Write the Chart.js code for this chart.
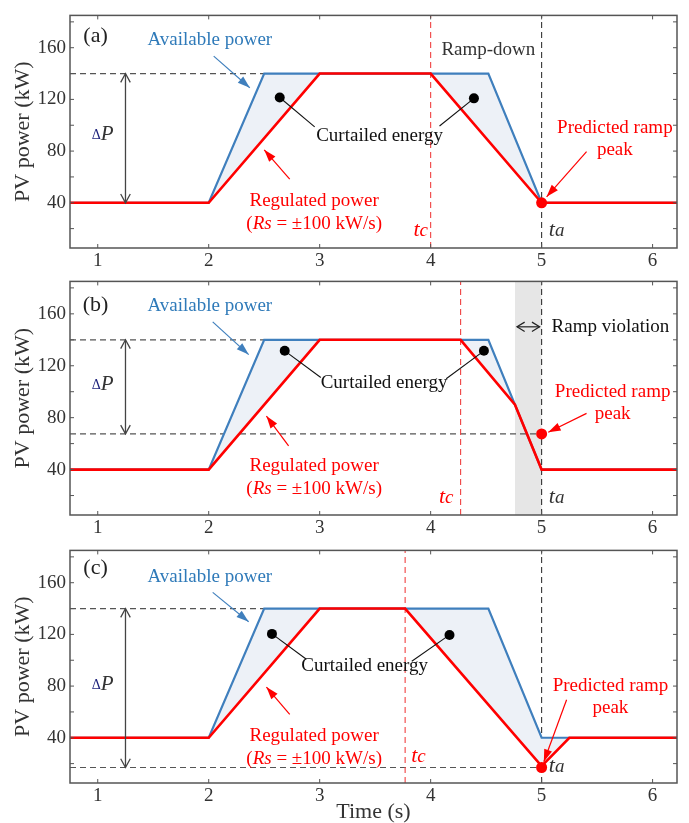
<!DOCTYPE html>
<html>
<head>
<meta charset="utf-8">
<script src="https://cdn.jsdelivr.net/npm/chart.js"></script>
<style>
  body { margin: 0; background: #fff; width: 689px; height: 823px; position: relative; overflow: hidden; }
  .panel { position: absolute; left: 0; }
</style>
</head>
<body>
<div class="panel" style="top:0px"><canvas id="chartA" width="689" height="270"></canvas></div>
<div class="panel" style="top:266px"><canvas id="chartB" width="689" height="271"></canvas></div>
<div class="panel" style="top:535px"><canvas id="chartC" width="689" height="288"></canvas></div>
<script>
// ---- data (time in s, power in kW) ----
// panel (a)
const tAvailA = [0.75, 2, 2.5, 4.52, 5, 6.22]
const availA  = [40, 40, 140, 140, 40, 40]
const tRegA   = [0.75, 2, 3, 4, 5, 6.22]
const regA    = [40, 40, 140, 140, 40, 40]
const peakA   = [5, 40]
const tcA = 4
const taA = 5

// panel (b)
const tAvailB = [0.75, 2, 2.5, 4.52, 5, 6.22]
const availB  = [40, 40, 140, 140, 40, 40]
const tRegB   = [0.75, 2, 3, 4.27, 4.76, 5, 6.22]
const regB    = [40, 40, 140, 140, 90, 40, 40]
const peakB   = [5, 67.5]
const tcB = 4.27
const taB = 5
const violationB = [4.76, 5]

// panel (c)
const tAvailC = [0.75, 2, 2.5, 4.52, 5, 6.22]
const availC  = [40, 40, 140, 140, 40, 40]
const tRegC   = [0.75, 2, 3, 3.77, 5, 5.25, 6.22]
const regC    = [40, 40, 140, 140, 18, 40, 40]
const peakC   = [5, 17]
const tcC = 3.77
const taC = 5

// shared
const topLevel = 140
const topLevelEnd = 2.5
const yTicks = [20, 40, 60, 80, 100, 120, 140, 160, 180]
const yTickLabels = [40, 80, 120, 160]

const SERIF = '"Liberation Serif", "Times New Roman", serif'
const RED = '#ff0000'
const BLUE = '#3f7fbd'
const BLUE_TXT = '#2f7ab9'
const f = s => s + 'px ' + SERIF
const fi = s => 'italic ' + s + 'px ' + SERIF

// label positions in data units (x s, y kW)
const panelNotes = {
  chartA: {
    tag: ['(a)', 0.98, 169],
    avail: [2.01, 166], availArrow: [2.045, 153.5, 2.37, 129],
    dots: [[2.64, 121.5, 2.955, 98.7], [4.39, 120.8, 4.08, 99.4]],
    curtailed: [3.54, 92],
    reg: [2.95, 41.5], regArrow: [2.73, 58.3, 2.5, 81],
    pred: [5.66, 98], predArrow: [5.405, 79.6, 5.045, 44.6],
    tc: [3.91, 18.7], ta: [5.135, 18.7],
    dP: [1.045, 92.6], dPx: 1.25, dPlow: 40,
    rampDown: [4.52, 158]
  },
  chartB: {
    tag: ['(b)', 0.98, 167],
    avail: [2.01, 166], availArrow: [2.036, 153.8, 2.36, 128.6],
    dots: [[2.685, 131.5, 3.01, 110.9], [4.48, 131.5, 4.14, 110]],
    curtailed: [3.58, 107],
    reg: [2.95, 43], regArrow: [2.72, 58.3, 2.52, 81.2],
    pred: [5.64, 100], predArrow: [5.405, 83.3, 5.06, 68.8],
    tc: [4.14, 19], ta: [5.135, 19],
    dP: [1.045, 105.7], dPx: 1.25, dPlow: 67.5,
    violation: [5.62, 150]
  },
  chartC: {
    tag: ['(c)', 0.98, 171],
    avail: [2.01, 164.5], availArrow: [2.036, 152.5, 2.36, 129.8],
    dots: [[2.57, 120.4, 2.88, 100.8], [4.17, 119.6, 3.83, 99.2]],
    curtailed: [3.405, 95.5],
    reg: [2.95, 41.5], regArrow: [2.73, 58.1, 2.52, 79.2],
    pred: [5.62, 80.4], predArrow: [5.225, 69.4, 5.02, 21.5],
    tc: [3.89, 25.7], ta: [5.135, 18.1],
    dP: [1.045, 81.5], dPx: 1.25, dPlow: 17
  }
}

function pts(xs, ys) {
  return xs.map((x, i) => ({ x: x, y: ys[i] }))
}

function line(ctx, x1, y1, x2, y2) {
  ctx.beginPath(); ctx.moveTo(x1, y1); ctx.lineTo(x2, y2); ctx.stroke()
}

function head(ctx, x1, y1, x2, y2, size, spread, filled) {
  const a = Math.atan2(y2 - y1, x2 - x1)
  ctx.beginPath()
  ctx.moveTo(x2 - size * Math.cos(a - spread), y2 - size * Math.sin(a - spread))
  ctx.lineTo(x2, y2)
  ctx.lineTo(x2 - size * Math.cos(a + spread), y2 - size * Math.sin(a + spread))
  if (filled) { ctx.closePath(); ctx.fill() } else ctx.stroke()
}

// text made of runs with different fonts, centred on cx
function runs(ctx, parts, cx, cy) {
  let w = 0
  parts.forEach(p => { ctx.font = p[1]; w += ctx.measureText(p[0]).width })
  let x = cx - w / 2
  ctx.textAlign = 'left'
  ctx.textBaseline = 'middle'
  parts.forEach(p => {
    ctx.font = p[1]; ctx.fillStyle = p[2]
    ctx.fillText(p[0], x, cy + (p[3] || 0))
    x += ctx.measureText(p[0]).width
  })
}

const notesPlugin = {
  id: 'notes',
  beforeDatasetsDraw(chart) {
    const n = panelNotes[chart.canvas.id]
    if (!n.violation) return
    const { ctx, chartArea: a, scales: { x } } = chart
    ctx.save()
    ctx.fillStyle = '#e6e6e6'
    const x1 = x.getPixelForValue(violationB[0]), x2 = x.getPixelForValue(violationB[1])
    ctx.fillRect(x1, a.top, x2 - x1, a.height)
    ctx.restore()
  },
  afterDatasetsDraw(chart) {
    const n = panelNotes[chart.canvas.id]
    const { ctx, chartArea: a, scales: { x, y } } = chart
    const X = v => x.getPixelForValue(v)
    const Y = v => y.getPixelForValue(v)
    ctx.save()

    // frame and inward ticks
    ctx.strokeStyle = '#555'
    ctx.lineWidth = 1.5
    ctx.strokeRect(a.left, a.top, a.width, a.height)
    ctx.lineWidth = 1
    x.ticks.forEach(t => {
      const px = X(t.value)
      line(ctx, px, a.bottom, px, a.bottom - 4)
      line(ctx, px, a.top, px, a.top + 4)
    })
    y.ticks.forEach(t => {
      const py = Y(t.value)
      line(ctx, a.left, py, a.left + 4, py)
      line(ctx, a.right, py, a.right - 4, py)
    })

    // panel tag
    runs(ctx, [[n.tag[0], f(22), '#222']], X(n.tag[1]), Y(n.tag[2]))

    // available power + arrow
    runs(ctx, [['Available power', f(19), BLUE_TXT]], X(n.avail[0]), Y(n.avail[1]))
    ctx.strokeStyle = BLUE; ctx.fillStyle = BLUE; ctx.lineWidth = 1.2
    let ar = n.availArrow
    line(ctx, X(ar[0]), Y(ar[1]), X(ar[2]), Y(ar[3]))
    head(ctx, X(ar[0]), Y(ar[1]), X(ar[2]), Y(ar[3]), 13, 0.32, true)

    // regulated power + arrow
    runs(ctx, [['Regulated power', f(19), RED]], X(n.reg[0]), Y(n.reg[1]))
    const ry = Y(n.reg[1]) + 23
    runs(ctx, [['(', f(19), RED], ['Rs', fi(19), RED], [' = \u00b1100 kW/s)', f(19), RED]], X(n.reg[0]), ry)
    ctx.strokeStyle = RED; ctx.fillStyle = RED
    ar = n.regArrow
    line(ctx, X(ar[0]), Y(ar[1]), X(ar[2]), Y(ar[3]))
    head(ctx, X(ar[0]), Y(ar[1]), X(ar[2]), Y(ar[3]), 13, 0.32, true)

    // predicted ramp peak + arrow
    runs(ctx, [['Predicted ramp', f(19), RED]], X(n.pred[0]), Y(n.pred[1]))
    runs(ctx, [['peak', f(19), RED]], X(n.pred[0]), Y(n.pred[1]) + 22)
    ar = n.predArrow
    ctx.strokeStyle = RED; ctx.fillStyle = RED
    line(ctx, X(ar[0]), Y(ar[1]), X(ar[2]), Y(ar[3]))
    head(ctx, X(ar[0]), Y(ar[1]), X(ar[2]), Y(ar[3]), 13, 0.32, true)

    // curtailed energy with two pointer dots
    runs(ctx, [['Curtailed energy', f(19), '#111']], X(n.curtailed[0]), Y(n.curtailed[1]))
    ctx.strokeStyle = '#111'; ctx.fillStyle = '#000'; ctx.lineWidth = 1.1
    n.dots.forEach(d => {
      line(ctx, X(d[0]), Y(d[1]), X(d[2]), Y(d[3]))
      ctx.beginPath(); ctx.arc(X(d[0]), Y(d[1]), 5, 0, Math.PI * 2); ctx.fill()
    })

    // delta P double arrow
    ctx.strokeStyle = '#444'; ctx.lineWidth = 1.3
    const dx = X(n.dPx), y1 = Y(topLevel), y2 = Y(n.dPlow)
    line(ctx, dx, y1, dx, y2)
    head(ctx, dx, y2, dx, y1, 10, 0.5, false)
    head(ctx, dx, y1, dx, y2, 10, 0.5, false)
    runs(ctx, [['\u0394', f(14), '#1b1f7a', 1], ['P', fi(21), '#333']], X(n.dP[0]), Y(n.dP[1]))

    // tc and ta labels
    runs(ctx, [['t', fi(22), RED], ['c', fi(19), RED, 1]], X(n.tc[0]), Y(n.tc[1]))
    runs(ctx, [['t', fi(22), '#333'], ['a', fi(19), '#333', 1]], X(n.ta[0]), Y(n.ta[1]))

    if (n.rampDown) {
      runs(ctx, [['Ramp-down', f(19), '#333']], X(n.rampDown[0]), Y(n.rampDown[1]))
    }
    if (n.violation) {
      runs(ctx, [['Ramp violation', f(19), '#111']], X(n.violation[0]), Y(n.violation[1]))
      const vy = Y(n.violation[1])
      const vx1 = X(violationB[0]) + 2, vx2 = X(violationB[1]) - 2
      ctx.strokeStyle = '#222'; ctx.lineWidth = 1.2
      line(ctx, vx1, vy, vx2, vy)
      head(ctx, vx2, vy, vx1, vy, 9, 0.55, false)
      head(ctx, vx1, vy, vx2, vy, 9, 0.55, false)
    }
    ctx.restore()
  }
}

function makeChart(id, d) {
  const datasets = [
    { data: [{ x: d.peak[0], y: d.peak[1] }], showLine: false, pointRadius: 5.5, pointBackgroundColor: RED, pointBorderWidth: 0, order: 0 },
    { data: pts(d.tReg, d.reg), borderColor: RED, borderWidth: 2.6, pointRadius: 0, fill: false, order: 1 },
    { data: pts(d.tAvail, d.avail), borderColor: BLUE, borderWidth: 2.2, pointRadius: 0, fill: { target: 1 }, backgroundColor: '#edf1f7', order: 2 },
    { data: [{ x: 0.75, y: topLevel }, { x: topLevelEnd, y: topLevel }], borderColor: '#555', borderWidth: 1.2, borderDash: [6, 4], pointRadius: 0, order: 3 },
    { data: [{ x: d.tc, y: 5 }, { x: d.tc, y: 185 }], borderColor: '#f04040', borderWidth: 1.1, borderDash: [6, 4], pointRadius: 0, order: 3 },
    { data: [{ x: d.ta, y: 5 }, { x: d.ta, y: 185 }], borderColor: '#333', borderWidth: 1.1, borderDash: [6, 4], pointRadius: 0, order: 3 }
  ]
  if (d.low) {
    datasets.push({ data: [{ x: 0.75, y: d.peak[1] }, { x: d.peak[0], y: d.peak[1] }], borderColor: '#555', borderWidth: 1.2, borderDash: [6, 4], pointRadius: 0, order: 3 })
  }
  return new Chart(document.getElementById(id), {
    type: 'line',
    data: { datasets },
    options: {
      responsive: false,
      animation: false,
      layout: { padding: { top: 12, right: 12, left: 0, bottom: 0 } },
      plugins: { legend: { display: false }, tooltip: { enabled: false } },
      scales: {
        x: {
          type: 'linear', min: 0.75, max: 6.22,
          grid: { display: false, drawTicks: false },
          border: { display: false },
          ticks: { stepSize: 1, includeBounds: false, autoSkip: false, maxRotation: 0, padding: 2, color: '#333', font: { family: SERIF, size: 19 } },
          title: { display: d.xTitle, text: 'Time (s)', color: '#333', font: { family: SERIF, size: 22, lineHeight: 1 }, padding: 0 },
          afterFit: s => { s.height = d.xh }
        },
        y: {
          min: 5, max: 185,
          grid: { display: false, drawTicks: false },
          border: { display: false },
          afterBuildTicks: s => { s.ticks = yTicks.map(v => ({ value: v })) },
          ticks: {
            autoSkip: false, padding: 4, color: '#333',
            font: { family: SERIF, size: 19 },
            callback: v => yTickLabels.includes(v) ? String(v) : ''
          },
          title: { display: true, text: 'PV power (kW)', color: '#333', font: { family: SERIF, size: 22, lineHeight: 1.2 }, padding: { top: 10, bottom: 0 } },
          afterFit: s => { s.width = 70 }
        }
      }
    },
    plugins: [notesPlugin]
  })
}

makeChart('chartA', { tAvail: tAvailA, avail: availA, tReg: tRegA, reg: regA, peak: peakA, tc: tcA, ta: taA, low: false, xh: 22, xTitle: false })
makeChart('chartB', { tAvail: tAvailB, avail: availB, tReg: tRegB, reg: regB, peak: peakB, tc: tcB, ta: taB, low: true, xh: 22, xTitle: false })
makeChart('chartC', { tAvail: tAvailC, avail: availC, tReg: tRegC, reg: regC, peak: peakC, tc: tcC, ta: taC, low: true, xh: 40, xTitle: true })
</script>
</body>
</html>
